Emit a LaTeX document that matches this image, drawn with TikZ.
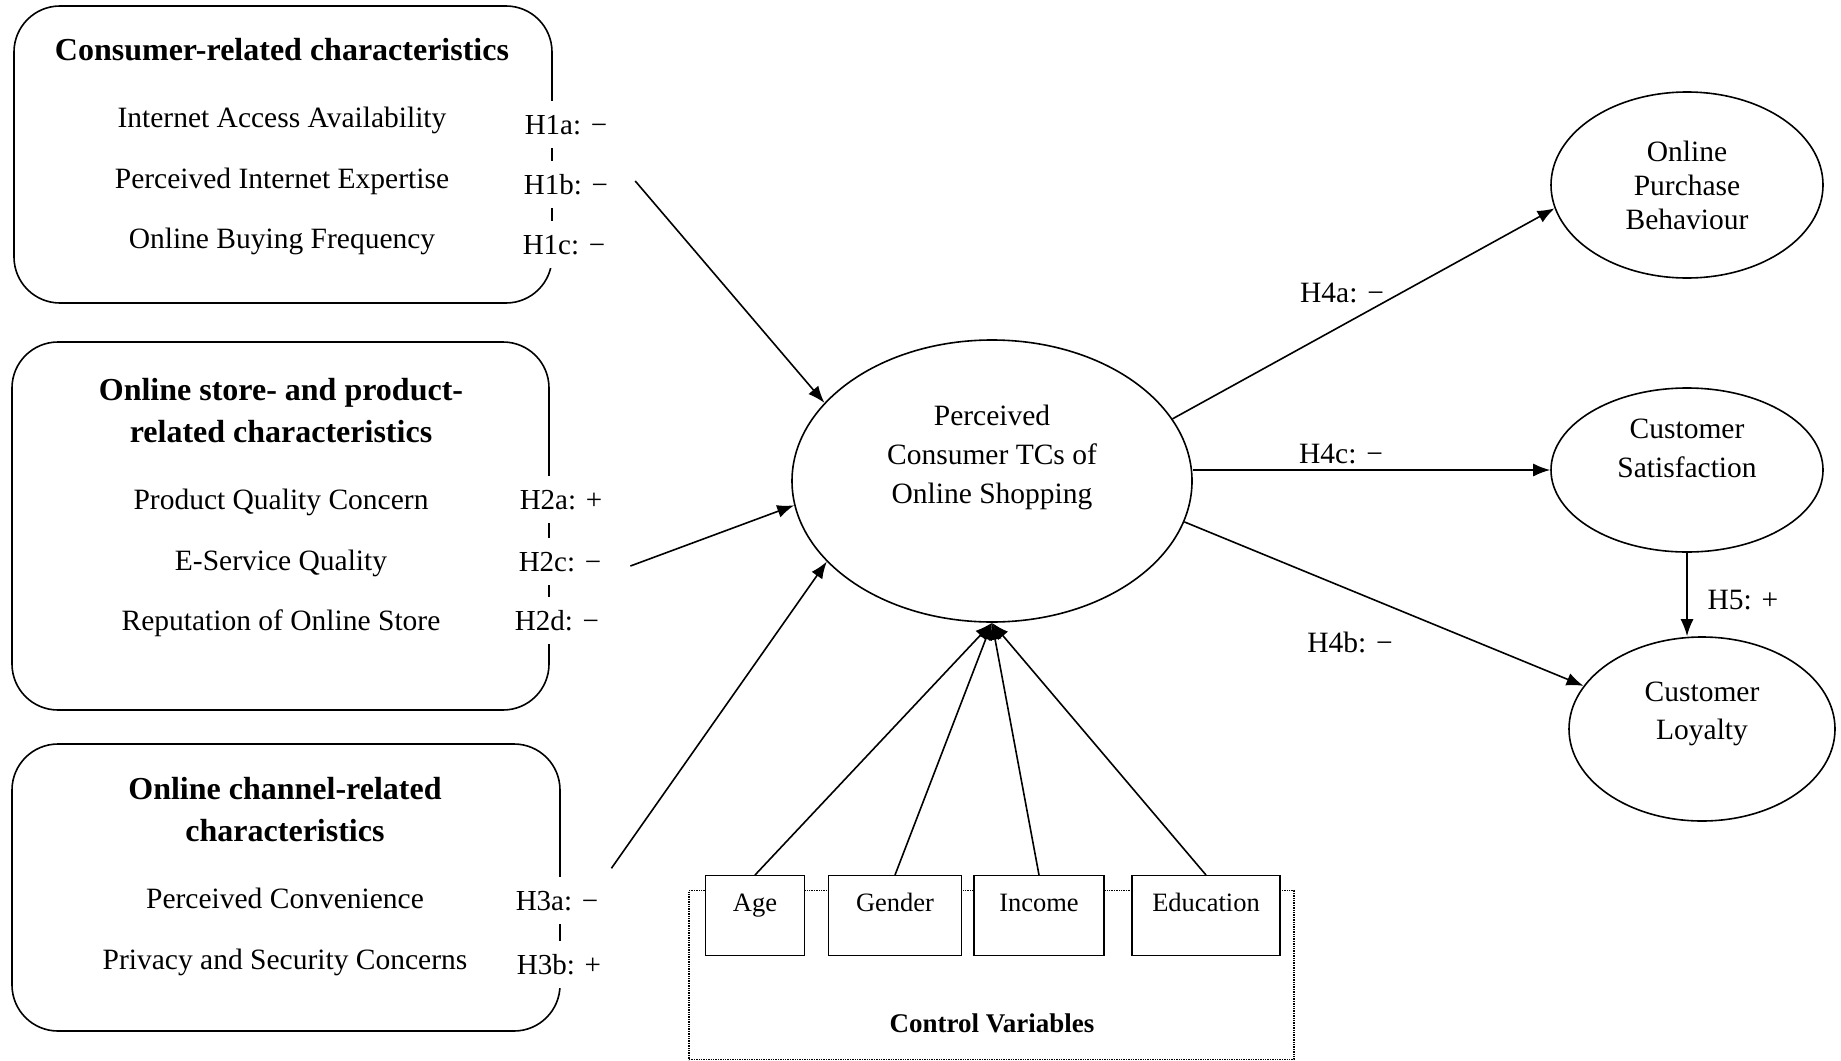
\documentclass[tikz,border=0pt]{standalone}
\usepackage{fontspec}
\setmainfont{Liberation Serif}
\usetikzlibrary{arrows.meta,shapes.geometric}
\tikzset{
  groupbox/.style = {draw, line width=1.6pt, rounded corners=46pt},
  grouptitle/.style = {font=\fontsize{32}{42}\selectfont\bfseries, align=center},
  item/.style = {font=\fontsize{29.5}{34}\selectfont, text height=24pt, text depth=3pt},
  hyp/.style = {font=\fontsize{29}{34}\selectfont, fill=white, inner xsep=3pt,
    text height=24pt, text depth=3pt, inner ysep=10pt},
  construct/.style = {draw, ellipse, line width=1.6pt, align=center, inner sep=0pt},
  ctrlbox/.style = {draw, fill=white, line width=1.4pt, anchor=north, inner sep=4pt,
    font=\fontsize{26.5}{31}\selectfont, text height=32pt, text depth=40pt},
  cvframe/.style = {draw, densely dotted, line width=1.4pt},
  link/.style = {-{Latex[length=17pt,width=13pt]}, line width=1.6pt}
}

\begin{document}
\begin{tikzpicture}[x=1pt,y=-1pt]
  \useasboundingbox (0,0) rectangle (1841,1060);
  % consumer-related
  \node[groupbox, minimum width=538pt, minimum height=297pt] (grpA) at (283,154.5) {};
  \node[grouptitle] (titA) at (282,50) {Consumer-related characteristics};
  \node[item] (ia1) at (282,117) {Internet Access Availability};
  \node[item] (ia2) at (282,178) {Perceived Internet Expertise};
  \node[item] (ia3) at (282,238) {Online Buying Frequency};
  \node[hyp] (h1a) at (566,124) {H1a: −};
  \node[hyp] (h1b) at (566,184) {H1b: −};
  \node[hyp] (h1c) at (564,244) {H1c: −};
  % store- and product-related
  \node[groupbox, minimum width=537pt, minimum height=368pt] (grpB) at (280.5,526) {};
  \node[grouptitle] (titB) at (281,411) {Online store- and product-\\related characteristics};
  \node[item] (ib1) at (281,499) {Product Quality Concern};
  \node[item] (ib2) at (281,560) {E-Service Quality};
  \node[item] (ib3) at (281,620) {Reputation of Online Store};
  \node[hyp] (h2a) at (561,499) {H2a: +};
  \node[hyp] (h2c) at (560,561) {H2c: −};
  \node[hyp] (h2d) at (557,620) {H2d: −};
  % channel-related
  \node[groupbox, minimum width=548pt, minimum height=287pt] (grpC) at (286,887.5) {};
  \node[grouptitle] (titC) at (285,810) {Online channel-related\\characteristics};
  \node[item] (ic1) at (285,898) {Perceived Convenience};
  \node[item] (ic2) at (285,959) {Privacy and Security Concerns};
  \node[hyp] (h3a) at (557,900) {H3a: −};
  \node[hyp] (h3b) at (559,964) {H3b: +};
  % constructs
  \node[construct, minimum width=400pt, minimum height=282pt] (tc) at (992,481) {};
  \node[align=center, font=\fontsize{29.5}{39}\selectfont] (tctext) at (992,457.5)
    {Perceived\\Consumer TCs of\\Online Shopping};
  \node[construct, minimum width=272pt, minimum height=186pt,
    font=\fontsize{29.5}{34}\selectfont] (opb) at (1687,185)
    {Online\\Purchase\\Behaviour};
  \node[construct, minimum width=272pt, minimum height=164pt] (cs) at (1687,470) {};
  \node[align=center, font=\fontsize{29.5}{39}\selectfont] (cstext) at (1687,448)
    {Customer\\Satisfaction};
  \node[construct, minimum width=266pt, minimum height=184pt] (cl) at (1702,729) {};
  \node[align=center, font=\fontsize{29.5}{38}\selectfont] (cltext) at (1702,714)
    {Customer\\Loyalty};
  % control variables
  \node[cvframe, minimum width=605pt, minimum height=169pt] (cvbox) at (991.5,975) {};
  \foreach \name/\x/\w/\txt in {age/755/99/Age, gender/895/133/Gender,
      income/1039/130/Income, educ/1206/148/Education} {%
    \node[ctrlbox, minimum width=\w pt] (\name) at (\x,875) {\txt};
    \draw[link] (\name.north) -- (tc.south);
  }
  \node[font=\fontsize{27}{32}\selectfont\bfseries] (cvtitle) at (992,1023) {Control Variables};
  % hypotheses paths
  \draw[link] ([xshift=24pt,yshift=3pt]h1b.east) -- (tc.155);
  \draw[link] ([xshift=26pt,yshift=-5pt]h2c.east) -- (tc.187);
  \draw[link] ([xshift=10pt,yshift=8pt]h3a.north east) -- (tc.206);
  \draw[link] (tc.19) -- (opb.190);
  \draw[link] (cs.west -| tc.east) -- (cs.west);
  \draw[link] (tc.-12) -- (cl.160);
  \draw[link] (cs.south) -- (cs.south |- cl.north);
  \node[item] (h4a) at (1342,292) {H4a: −};
  \node[item] (h4c) at (1341,453) {H4c: −};
  \node[item] (h4b) at (1350,642) {H4b: −};
  \node[item] (h5) at (1743,599) {H5: +};
\end{tikzpicture}
\end{document}
